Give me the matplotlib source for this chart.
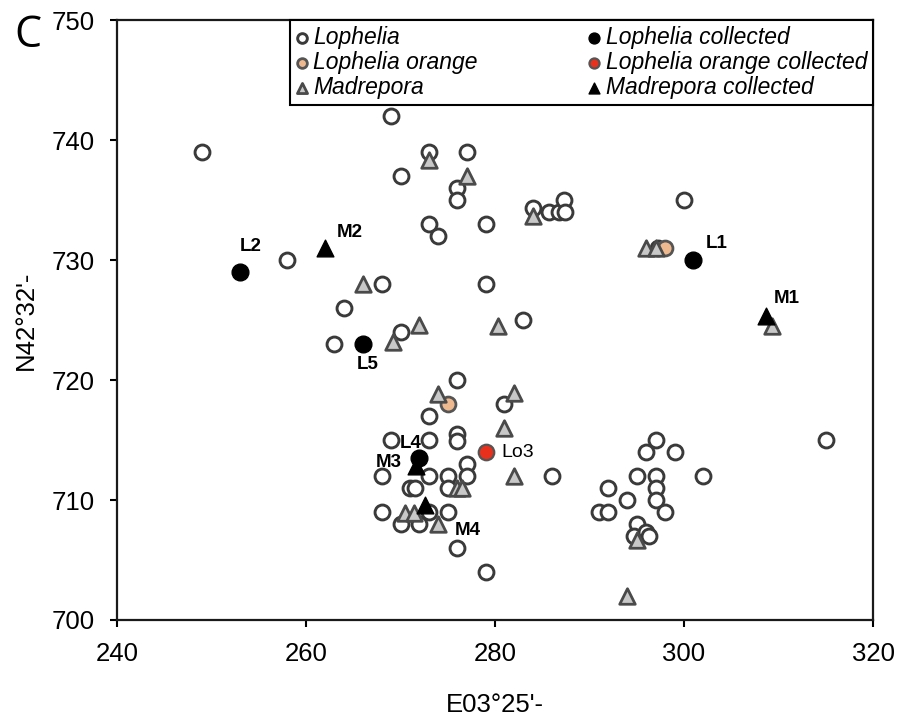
import matplotlib
matplotlib.use("Agg")
import matplotlib.pyplot as plt

plt.rcParams['font.family'] = ['Liberation Sans', 'DejaVu Sans']

# open Lophelia sites
lophelia_x = [249, 269, 273, 277, 270, 276, 276, 273, 274, 279, 258, 268, 279, 264, 270, 263, 283, 276,
              284, 285.7, 286.8, 287.3, 287.4, 300, 297.3,
              281, 273, 276, 276, 269, 273, 277, 268, 273, 275, 277, 286, 271, 271.5, 275, 268, 273, 275,
              270, 272, 276, 279,
              297, 296, 299, 315, 295, 297, 302, 292, 297, 297, 294, 291, 292, 298, 295, 294.7, 296, 296.3]
lophelia_y = [739, 742, 739, 739, 737, 736, 735, 733, 732, 733, 730, 728, 728, 726, 724, 723, 725, 720,
              734.3, 734, 734, 735, 734, 735, 731,
              718, 717, 715.5, 714.9, 715, 715, 713, 712, 712, 712, 712, 712, 711, 711, 711, 709, 709, 709,
              708, 708, 706, 704,
              715, 714, 714, 715, 712, 712, 712, 711, 711, 710, 710, 709, 709, 709, 708, 707, 707.3, 707]

orange_x = [298, 275]
orange_y = [731, 718]

madrepora_x = [273, 277, 284, 266, 272, 269.2, 280.3, 296, 297, 309.3, 274, 282, 281, 282, 276, 276.5,
               270.5, 271.4, 274, 295, 294]
madrepora_y = [738.3, 737, 733.7, 728, 724.6, 723.2, 724.5, 731, 731, 724.5, 718.8, 718.9, 716, 712, 711, 711,
               708.9, 708.9, 708, 706.7, 702]

loph_coll_x = [253, 266, 301, 272]
loph_coll_y = [729, 723, 730, 713.5]

orange_coll_x = [279]
orange_coll_y = [714]

madr_coll_x = [262, 308.7, 271.6, 272.6]
madr_coll_y = [731, 725.3, 712.8, 709.6]

# site labels
label_text = ['L2', 'M2', 'L5', 'L1', 'M1', 'L4', 'M3', 'M4']
label_x = [254.1, 264.6, 266.5, 303.5, 310.9, 271.1, 268.8, 277.1]
label_y = [731.1, 732.3, 721.3, 731.4, 726.8, 714.7, 713.1, 707.5]

fig = plt.figure(figsize=(9, 7.17), dpi=100)
ax = fig.add_axes([0.13, 0.1353, 0.84, 0.8367])

edge = '#3a3a3a'
ax.scatter(lophelia_x, lophelia_y, s=115, facecolor='white', edgecolor=edge, linewidth=2.1,
           label='Lophelia', zorder=2)
ax.scatter(orange_x, orange_y, s=115, facecolor='#efb98f', edgecolor='#555555', linewidth=2.0,
           label='Lophelia orange', zorder=3)
ax.scatter(madrepora_x, madrepora_y, s=125, marker='^', facecolor='#c8c8c8', edgecolor='#4a4a4a',
           linewidth=2.0, label='Madrepora', zorder=4)
ax.scatter(loph_coll_x, loph_coll_y, s=145, facecolor='black', edgecolor='black', linewidth=1,
           label='Lophelia collected', zorder=5)
ax.scatter(orange_coll_x, orange_coll_y, s=125, facecolor='#e8301c', edgecolor='#555555', linewidth=1.6,
           label='Lophelia orange collected', zorder=5)
ax.scatter(madr_coll_x, madr_coll_y, s=145, marker='^', facecolor='black', edgecolor='black', linewidth=1,
           label='Madrepora collected', zorder=6)

for t, x, y in zip(label_text, label_x, label_y):
    ax.text(x, y, t, fontsize=13.5, fontweight='bold', ha='center', va='center', zorder=7)
ax.text(282.4, 714.0, 'Lo3', fontsize=14, ha='center', va='center', zorder=7)

ax.set_xlim(240, 320)
ax.set_ylim(700, 750)
ax.set_xticks([240, 260, 280, 300, 320])
ax.set_yticks([700, 710, 720, 730, 740, 750])
ax.tick_params(direction='out', length=5, width=1.5, labelsize=18.5, pad=11)
for sp in ax.spines.values():
    sp.set_linewidth(1.6)
    sp.set_color('#1a1a1a')

ax.set_xlabel("E03°25'-", fontsize=18.5, labelpad=19)
ax.set_ylabel("N42°32'-", fontsize=18.5, labelpad=10)

leg = ax.legend(ncol=2, loc='upper left', bbox_to_anchor=(0.229, 0, 0.771, 1), mode='expand',
                borderaxespad=0, prop={'style': 'italic', 'size': 16.5},
                handlelength=0.5, handletextpad=0.25, labelspacing=0.1, borderpad=0.25,
                markerscale=0.65, fancybox=False, framealpha=1, edgecolor='black')
leg.get_frame().set_linewidth(1.5)
leg.set_zorder(10)

fig.text(0.016, 0.95, 'C', fontsize=31, family='Open Sans', va='center', ha='left')

fig.savefig('out.png', dpi=100)
